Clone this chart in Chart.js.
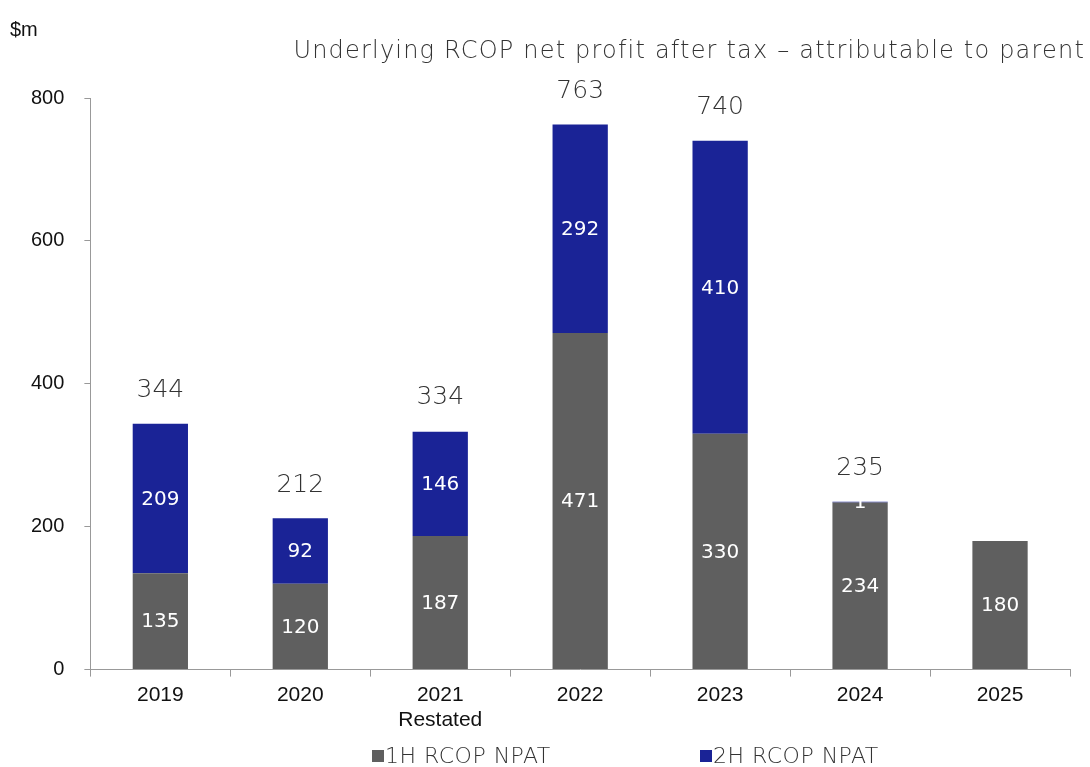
<!DOCTYPE html>
<html>
<head>
<meta charset="utf-8">
<script src="https://cdn.jsdelivr.net/npm/chart.js@4"></script>
<style>
  html, body { margin: 0; padding: 0; background: #fff; }
  #wrap { width: 1090px; height: 767px; }
</style>
</head>
<body>
<div id="wrap"><canvas id="bar" width="1090" height="767"></canvas></div>
<script>
const years = [['2019'], ['2020'], ['2021', 'Restated'], ['2022'], ['2023'], ['2024'], ['2025']];
const firstHalf = [135, 120, 187, 471, 330, 234, 180];
const secondHalf = [209, 92, 146, 292, 410, 1, null];
const totals = [344, 212, 334, 763, 740, 235, null];
const yTicks = [0, 200, 400, 600, 800];
const seriesNames = ['1H RCOP NPAT', '2H RCOP NPAT'];
const seriesColors = ['#5f5f5f', '#1a2396'];

const thinFont = "'DejaVu Sans', sans-serif";
const axisFont = "Arial, 'Liberation Sans', sans-serif";

// eigene Beschriftungen: Werte in den Balken, Summen darüber, Titel, Einheit, Legende
const labelPlugin = {
  id: 'labels',
  afterDatasetsDraw(chart) {
    const ctx = chart.ctx;
    ctx.save();
    ctx.textAlign = 'center';
    ctx.textBaseline = 'middle';
    ctx.fillStyle = '#ffffff';
    ctx.font = "20px " + thinFont;
    chart.data.datasets.forEach((ds, i) => {
      chart.getDatasetMeta(i).data.forEach((bar, j) => {
        if (ds.data[j] == null) return;
        const y = (bar.y + bar.base) / 2;
        ctx.fillText(ds.data[j], bar.x, y + 1);
      });
    });
    ctx.fillStyle = '#333';
    ctx.font = "200 25px " + thinFont;
    const y = chart.scales.y;
    totals.forEach((t, j) => {
      if (t == null) return;
      const x = chart.getDatasetMeta(0).data[j].x;
      ctx.fillText(t, x, y.getPixelForValue(t) - 33);
    });
    ctx.textAlign = 'right';
    ctx.font = "200 24px " + thinFont;
    ctx.letterSpacing = '1.2px';
    ctx.fillText('Underlying RCOP net profit after tax \u2013 attributable to parent', 1085, 52);
    ctx.letterSpacing = '0px';
    ctx.textAlign = 'left';
    ctx.fillStyle = '#111';
    ctx.font = "20px " + axisFont;
    ctx.fillText('$m', 10, 30);

    // Legende
    const legendX = [372, 700];
    ctx.font = "200 22px " + thinFont;
    ctx.letterSpacing = '0.5px';
    seriesNames.forEach((name, i) => {
      ctx.fillStyle = seriesColors[i];
      ctx.fillRect(legendX[i], 750, 12, 12);
      ctx.fillStyle = '#333';
      ctx.fillText(name, legendX[i] + 13, 757);
    });
    ctx.restore();
  }
};

new Chart(document.getElementById('bar'), {
  type: 'bar',
  data: {
    labels: years,
    datasets: seriesNames.map((name, i) => ({
      label: name,
      data: i === 0 ? firstHalf : secondHalf,
      backgroundColor: seriesColors[i],
      categoryPercentage: 1,
      barPercentage: 0.395
    }))
  },
  options: {
    responsive: false,
    animation: false,
    devicePixelRatio: 1,
    layout: { padding: { top: 98, right: 20, left: 11, bottom: 28 } },
    plugins: {
      tooltip: { enabled: false },
      legend: { display: false }
    },
    scales: {
      x: {
        stacked: true,
        offset: true,
        grid: { offset: true, drawOnChartArea: false, drawTicks: true, tickLength: 7, color: '#999' },
        border: { color: '#999' },
        ticks: { color: '#111', font: { family: axisFont, size: 21, lineHeight: 1.2 }, padding: 6 }
      },
      y: {
        stacked: true,
        min: 0,
        max: 800,
        afterBuildTicks: axis => { axis.ticks = yTicks.map(v => ({ value: v })); },
        grid: { drawOnChartArea: false, drawTicks: true, tickLength: 6, color: '#999' },
        border: { color: '#999' },
        ticks: { color: '#111', font: { family: axisFont, size: 20 }, padding: 20 }
      }
    }
  },
  plugins: [labelPlugin]
});
</script>
</body>
</html>
